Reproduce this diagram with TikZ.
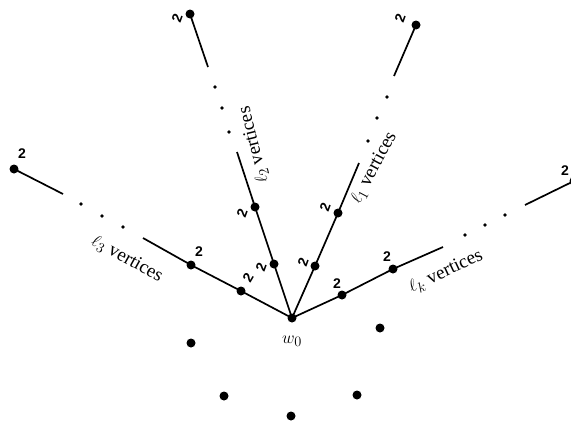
\documentclass[tikz,border=0pt]{standalone}
\usepackage{fontspec}
\setmainfont{Liberation Serif}
\newfontfamily\twofont{Liberation Sans}
\begin{document}
\begin{tikzpicture}[x=1pt,y=-1pt,
  vtx/.style={circle,fill=black,inner sep=0pt,minimum size=9pt},
  sdot/.style={circle,fill=black,inner sep=0pt,minimum size=3.6pt},
  edge/.style={line width=1.7pt},
  two/.style={font=\twofont\bfseries\fontsize{14}{14}\selectfont,inner sep=0pt},
  lab/.style={font=\fontsize{19}{20}\selectfont,inner sep=0pt}]
\useasboundingbox (0,0) rectangle (571,423);
% centre
\node[vtx] (w) at (292,318) {};
\node[lab] (wl) at (292,341) {$w_0$};
% branch l3
\node[vtx] (a1) at (241,291) {};
\node[vtx] (a2) at (191,265) {};
\coordinate (a3) at (143,238);
\node[sdot] (ad1) at (123,227) {};
\node[sdot] (ad2) at (102,216) {};
\node[sdot] (ad3) at (81,204) {};
\coordinate (a4) at (63,194);
\node[vtx] (at) at (14,169) {};
% branch l2
\node[vtx] (b1) at (274,264) {};
\node[vtx] (b2) at (255,207) {};
\coordinate (b3) at (237,152);
\node[sdot] (bd1) at (229,132) {};
\node[sdot] (bd2) at (222,108) {};
\node[sdot] (bd3) at (215,87) {};
\coordinate (b4) at (208,67);
\node[vtx] (bt) at (190,14) {};
% branch l1
\node[vtx] (c1) at (315,266) {};
\node[vtx] (c2) at (338,213) {};
\coordinate (c3) at (359,163);
\node[sdot] (cd1) at (368,141) {};
\node[sdot] (cd2) at (377,118) {};
\node[sdot] (cd3) at (387,97) {};
\coordinate (c4) at (394,76);
\node[vtx] (ct) at (416,25) {};
% branch lk
\node[vtx] (d1) at (342,295) {};
\node[vtx] (d2) at (393,269) {};
\coordinate (d3) at (443,247);
\node[sdot] (dd1) at (465,235) {};
\node[sdot] (dd2) at (485,225) {};
\node[sdot] (dd3) at (505,215) {};
\coordinate (d4) at (525,205);
\node[vtx] (dt) at (574,181) {};
% isolated vertices
\node[vtx] (e1) at (191,343) {};
\node[vtx] (e2) at (224,396) {};
\node[vtx] (e3) at (291,416) {};
\node[vtx] (e4) at (357,395) {};
\node[vtx] (e5) at (380,328) {};
% edges
\draw[edge] (w.center) -- (a1.center) -- (a2.center) -- (a3);
\draw[edge] (a4) -- (at.center);
\draw[edge] (w.center) -- (b1.center) -- (b2.center) -- (b3);
\draw[edge] (b4) -- (bt.center);
\draw[edge] (w.center) -- (c1.center) -- (c2.center) -- (c3);
\draw[edge] (c4) -- (ct.center);
\draw[edge] (w.center) -- (d1.center) -- (d2.center) -- (d3);
\draw[edge] (d4) -- (dt.center);
% labels 2
\node[two] (ta) at (22,154) {2};
\node[two] (ta2) at (199,252) {2};
\node[two,rotate=60] (ta1) at (248,278) {2};
\node[two,rotate=70] (tb1) at (261,267) {2};
\node[two,rotate=70] (tb2) at (242,213) {2};
\node[two,rotate=70] (tbt) at (177,18) {2};
\node[two,rotate=70] (tc1) at (303,262) {2};
\node[two,rotate=70] (tc2) at (325,207) {2};
\node[two,rotate=70] (tct) at (400,18) {2};
\node[two] (td1) at (337,284) {2};
\node[two] (td2) at (387,257) {2};
\node[two] (tdt) at (565,171) {2};
% branch labels
\node[lab,rotate=-29] (l3) at (127,259) {$\ell_3$ vertices};
\node[lab,rotate=104] (l2) at (254,145) {$\ell_2$ vertices};
\node[lab,rotate=62] (l1) at (374,168) {$\ell_1$ vertices};
\node[lab,rotate=25] (lk) at (446,272) {$\ell_k$ vertices};
\end{tikzpicture}
\end{document}
